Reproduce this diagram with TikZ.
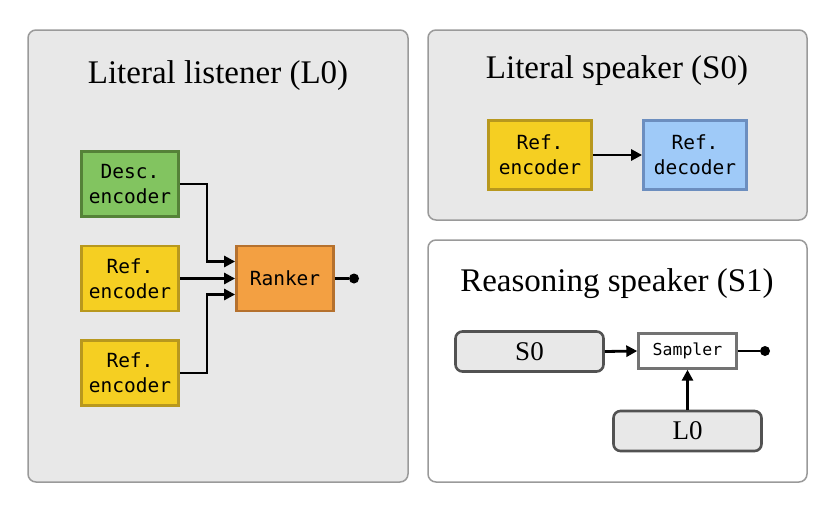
\documentclass[tikz,border=0pt]{standalone}
\usepackage{fontspec}
\setmainfont{Liberation Serif}
\setmonofont{DejaVu Sans Mono}
\usetikzlibrary{arrows.meta,calc}
\definecolor{panelfill}{HTML}{E8E8E8}
\definecolor{panelline}{HTML}{9A9A9A}
\definecolor{gfill}{HTML}{82C460}
\definecolor{gline}{HTML}{558238}
\definecolor{yfill}{HTML}{F5CF22}
\definecolor{yline}{HTML}{B8981E}
\definecolor{ofill}{HTML}{F3A042}
\definecolor{oline}{HTML}{B5712E}
\definecolor{bfill}{HTML}{9FCAF8}
\definecolor{bline}{HTML}{6C8EBF}
\tikzset{
  panel/.style={draw=panelline, line width=1.5pt, rounded corners=8pt, inner sep=0pt},
  title/.style={font=\fontsize{33}{37}\selectfont, inner sep=0pt},
  mbox/.style={line width=2.8pt, align=center, inner sep=0pt, minimum width=97pt, minimum height=65pt,
    font=\ttfamily\fontsize{19.5}{25}\selectfont},
  gbox/.style={mbox, draw=gline, fill=gfill},
  ybox/.style={mbox, draw=yline, fill=yfill},
  obox/.style={mbox, draw=oline, fill=ofill},
  bbox/.style={mbox, draw=bline, fill=bfill},
  rbox/.style={draw=black!68, line width=2.6pt, rounded corners=7pt, fill=panelfill, inner sep=0pt,
    minimum width=148pt, minimum height=40pt, font=\fontsize{27}{30}\selectfont},
  sbox/.style={draw=black!55, line width=2.4pt, fill=white, inner sep=0pt,
    minimum width=98pt, minimum height=35pt, font=\ttfamily\fontsize{16.5}{20}\selectfont},
  arr/.style={line width=2.8pt, -{Triangle[length=11pt,width=11pt]}},
  ln/.style={line width=2.8pt},
  dotn/.style={circle, fill=black, inner sep=0pt, minimum size=10pt},
}
\begin{document}
\begin{tikzpicture}[x=1pt,y=-1pt]
\useasboundingbox (0,0) rectangle (832,506);
\fill[white] (0,0) rectangle (832,506);
% panels
\node[panel, fill=panelfill, minimum width=380pt, minimum height=452pt] (pL) at (218,256) {};
\node[panel, fill=panelfill, minimum width=379pt, minimum height=190pt] (pS0) at (617.5,125) {};
\node[panel, fill=white, minimum width=379pt, minimum height=242pt] (pS1) at (617.5,361) {};
% titles
\node[title] (tL) at (218,76) {Literal listener (L0)};
\node[title] (tS0) at (617,71) {Literal speaker (S0)};
\node[title] (tS1) at (617,284) {Reasoning speaker (S1)};
% L0
\node[gbox] (desc) at (130,184) {Desc.\\encoder};
\node[ybox] (r1) at (130,278.5) {Ref.\\encoder};
\node[ybox] (r2) at (130,373) {Ref.\\encoder};
\node[obox] (rank) at (285,278.5) {Ranker};
\node[dotn] (o1) at (354,278.5) {};
\draw[arr] (desc.east) -- ++(27,0) |- ([yshift=17pt]rank.west);
\draw[arr] (r1.east) -- (rank.west);
\draw[arr] (r2.east) -- ++(27,0) |- ([yshift=-16pt]rank.west);
\draw[ln] (rank.east) -- (o1);
% S0
\node[ybox, minimum width=103pt, minimum height=69pt] (se) at (540,155) {Ref.\\encoder};
\node[bbox, minimum width=103pt, minimum height=69pt] (sd) at (695,155) {Ref.\\decoder};
\draw[arr] (se.east) -- (sd.west);
% S1
\node[rbox] (s0) at (529.5,351.5) {S0};
\node[sbox] (samp) at (687.5,351) {Sampler};
\node[rbox] (l0) at (687.5,431) {L0};
\node[dotn] (o2) at (765,351) {};
\draw[arr] (s0.east) -- (samp.west);
\draw[arr] (l0.north) -- (samp.south);
\draw[ln] (samp.east) -- (o2);
\end{tikzpicture}
\end{document}
